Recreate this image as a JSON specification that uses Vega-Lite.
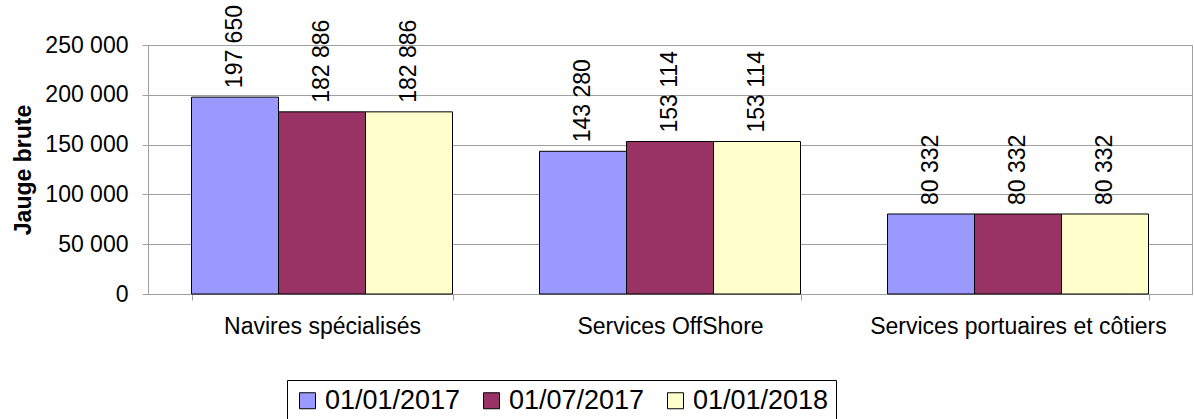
{
  "$schema": "https://vega.github.io/schema/vega-lite/v6.json",
  "width": 1044,
  "height": 249,
  "autosize": {"type": "none"},
  "padding": {"left": 148, "top": 45, "right": 2, "bottom": 125},
  "config": {
    "font": "Liberation Sans",
    "locale": {"number": {"decimal": ",", "thousands": " ", "grouping": [3], "currency": ["", " €"]}},
    "view": {"stroke": "#a0a0a0"}
  },
  "data": {
    "values": [
      {"categorie": "Navires spécialisés", "date": "01/01/2017", "jauge": 197650},
      {"categorie": "Navires spécialisés", "date": "01/07/2017", "jauge": 182886},
      {"categorie": "Navires spécialisés", "date": "01/01/2018", "jauge": 182886},
      {"categorie": "Services OffShore", "date": "01/01/2017", "jauge": 143280},
      {"categorie": "Services OffShore", "date": "01/07/2017", "jauge": 153114},
      {"categorie": "Services OffShore", "date": "01/01/2018", "jauge": 153114},
      {"categorie": "Services portuaires et côtiers", "date": "01/01/2017", "jauge": 80332},
      {"categorie": "Services portuaires et côtiers", "date": "01/07/2017", "jauge": 80332},
      {"categorie": "Services portuaires et côtiers", "date": "01/01/2018", "jauge": 80332}
    ]
  },
  "encoding": {
    "x": {
      "field": "categorie", "type": "nominal", "sort": null,
      "scale": {"paddingInner": 0.25, "paddingOuter": 0.125},
      "axis": {"title": null, "labelAngle": 0, "labelLimit": 500, "tickBand": "extent", "tickSize": 6, "labelFontSize": 23, "labelPadding": 15, "domainColor": "#a0a0a0", "tickColor": "#a0a0a0", "labelColor": "black", "grid": false}
    },
    "xOffset": {"field": "date", "type": "nominal", "sort": ["01/01/2017", "01/07/2017", "01/01/2018"]},
    "y": {
      "field": "jauge", "type": "quantitative",
      "scale": {"domain": [0, 250000], "nice": false},
      "axis": {"title": "Jauge brute", "values": [0, 50000, 100000, 150000, 200000, 250000], "format": ",d", "grid": true, "gridColor": "#a0a0a0", "domainColor": "#a0a0a0", "tickColor": "#a0a0a0", "tickSize": 6, "labelFontSize": 23, "labelPadding": 14, "labelColor": "black", "titleFontSize": 23, "titleFontWeight": "bold", "titlePadding": 9, "titleColor": "black"}
    }
  },
  "layer": [
    {
      "mark": {"type": "bar", "stroke": "black", "strokeWidth": 1},
      "encoding": {
        "color": {
          "field": "date", "type": "nominal",
          "scale": {"domain": ["01/01/2017", "01/07/2017", "01/01/2018"], "range": ["#9999FF", "#993366", "#FFFFCC"]},
          "legend": {"orient": "none", "legendX": 139, "legendY": 335, "direction": "horizontal", "title": null, "strokeColor": "black", "fillColor": "white", "padding": 7, "labelFontSize": 27, "labelOffset": 4, "columnPadding": 17, "symbolType": "square", "symbolSize": 256, "symbolStrokeColor": "black", "symbolStrokeWidth": 1, "symbolOpacity": 1, "labelColor": "black"}
        }
      }
    },
    {
      "mark": {"type": "text", "angle": 270, "align": "left", "baseline": "middle", "dx": 9, "fontSize": 23, "color": "black"},
      "encoding": {"text": {"field": "jauge", "type": "quantitative", "format": ",d"}}
    }
  ]
}
